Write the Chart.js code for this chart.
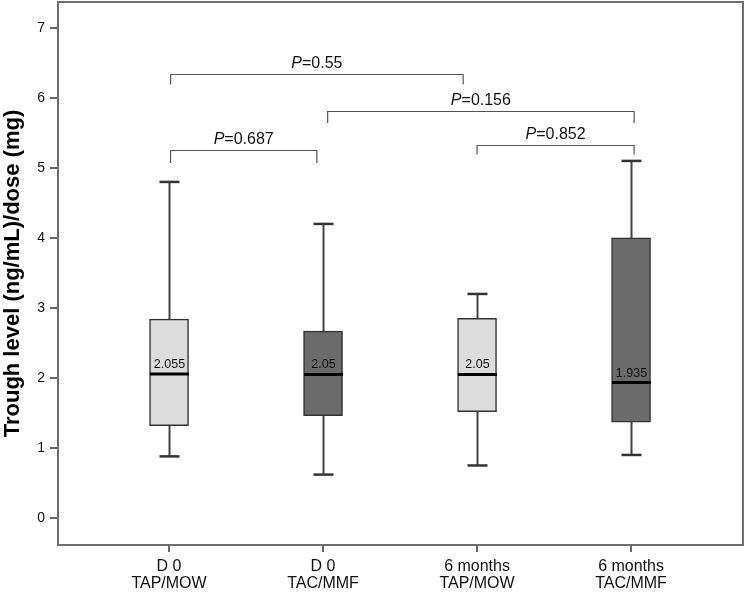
<!DOCTYPE html>
<html>
<head>
<meta charset="utf-8">
<script src="https://cdn.jsdelivr.net/npm/chart.js@4/dist/chart.umd.min.js"></script>
<style>
  html, body { margin: 0; padding: 0; background: #fff; }
  #wrap { width: 745px; height: 592px; }
</style>
</head>
<body>
<div id="wrap"><canvas id="chart"></canvas></div>
<script>
// box plot values
const groups = [['D 0', 'TAP/MOW'], ['D 0', 'TAC/MMF'], ['6 months', 'TAP/MOW'], ['6 months', 'TAC/MMF']];
const whiskerLow = [0.88, 0.62, 0.75, 0.90];
const q1 = [1.32, 1.46, 1.52, 1.37];
const median = [2.055, 2.05, 2.05, 1.935];
const q3 = [2.84, 2.67, 2.85, 4.00];
const whiskerHigh = [4.80, 4.20, 3.20, 5.10];
const medianLabels = ['2.055', '2.05', '2.05', '1.935'];
const yTicks = [0, 1, 2, 3, 4, 5, 6, 7];

// significance brackets
const pValues = ['0.55', '0.156', '0.687', '0.852'];
const pFrom = [1.01, 2.03, 1.01, 3.00];
const pTo = [2.91, 4.02, 1.96, 4.02];
const pTop = [6.34, 5.81, 5.25, 5.33];
const pFoot = [6.19, 5.64, 5.07, 5.19];

const FONT = "'Liberation Sans', Arial, Helvetica, sans-serif";
const light = '#dcdcdc';
const dark = '#6b6b6b';

const boxParts = {
    id: 'boxParts',
    beforeDatasetsDraw(chart) {
        const { ctx, scales: { x, y } } = chart;
        ctx.save();
        ctx.strokeStyle = '#454545';
        ctx.lineWidth = 2;
        groups.forEach((g, i) => {
            const px = Math.round(x.getPixelForValue(i + 1)) + 0.5;
            ctx.beginPath();
            ctx.moveTo(px, y.getPixelForValue(whiskerLow[i]));
            ctx.lineTo(px, y.getPixelForValue(whiskerHigh[i]));
            ctx.stroke();
        });
        ctx.restore();
    },
    afterDatasetsDraw(chart) {
        const { ctx, scales: { x, y } } = chart;
        ctx.save();
        const half = chart.getDatasetMeta(0).data[0].width / 2;
        groups.forEach((g, i) => {
            const px = Math.round(x.getPixelForValue(i + 1)) + 0.5;
            // caps
            ctx.strokeStyle = '#333';
            ctx.lineWidth = 2.5;
            [whiskerLow[i], whiskerHigh[i]].forEach(v => {
                const py = y.getPixelForValue(v);
                ctx.beginPath();
                ctx.moveTo(px - 10, py);
                ctx.lineTo(px + 10, py);
                ctx.stroke();
            });
            // median
            const my = y.getPixelForValue(median[i]);
            ctx.strokeStyle = '#000';
            ctx.lineWidth = 3;
            ctx.beginPath();
            ctx.moveTo(px - half, my);
            ctx.lineTo(px + half, my);
            ctx.stroke();
            ctx.fillStyle = '#111';
            ctx.font = '12.5px ' + FONT;
            ctx.textAlign = 'center';
            ctx.textBaseline = 'alphabetic';
            ctx.fillText(medianLabels[i], px, my - 6);
        });

        // brackets
        ctx.strokeStyle = '#555';
        ctx.lineWidth = 1.2;
        pValues.forEach((p, i) => {
            const x0 = x.getPixelForValue(pFrom[i]);
            const x1 = x.getPixelForValue(pTo[i]);
            const yt = Math.round(y.getPixelForValue(pTop[i])) + 0.5;
            const yf = y.getPixelForValue(pFoot[i]);
            ctx.beginPath();
            ctx.moveTo(x0, yf);
            ctx.lineTo(x0, yt);
            ctx.lineTo(x1, yt);
            ctx.lineTo(x1, yf);
            ctx.stroke();

            const italic = 'italic 16px ' + FONT;
            const normal = '16px ' + FONT;
            ctx.font = italic;
            const wP = ctx.measureText('P').width;
            ctx.font = normal;
            const wRest = ctx.measureText('=' + p).width;
            const start = (x0 + x1) / 2 - (wP + wRest) / 2;
            ctx.fillStyle = '#111';
            ctx.textAlign = 'left';
            ctx.textBaseline = 'alphabetic';
            ctx.font = italic;
            ctx.fillText('P', start, yt - 7);
            ctx.font = normal;
            ctx.fillText('=' + p, start + wP, yt - 7);
        });
        ctx.restore();
    },
    afterDraw(chart) {
        const { ctx, chartArea: a } = chart;
        ctx.save();
        ctx.strokeStyle = '#6e6e6e';
        ctx.lineWidth = 2;
        ctx.strokeRect(a.left, a.top, a.right - a.left, a.bottom - a.top);
        ctx.restore();
    }
};

new Chart(document.getElementById('chart'), {
    type: 'bar',
    data: {
        datasets: [{
            data: groups.map((g, i) => ({ x: i + 1, y: [q1[i], q3[i]] })),
            backgroundColor: [light, dark, light, dark],
            borderColor: '#333',
            borderWidth: 1.5,
            borderSkipped: false,
            barThickness: 39
        }]
    },
    options: {
        responsive: true,
        maintainAspectRatio: false,
        animation: false,
        layout: { padding: { top: 2, right: 2, left: 0, bottom: 0 } },
        plugins: {
            legend: { display: false },
            tooltip: { enabled: false }
        },
        scales: {
            x: {
                type: 'linear',
                min: 0.279,
                max: 4.727,
                offset: false,
                afterBuildTicks: s => { s.ticks = groups.map((g, i) => ({ value: i + 1 })); },
                afterFit: s => { s.height = 47; s.paddingLeft = 0; s.paddingRight = 0; },
                ticks: {
                    callback: v => groups[v - 1],
                    color: '#111',
                    font: { family: FONT, size: 16, lineHeight: 1.08 },
                    padding: 6,
                    maxRotation: 0,
                    autoSkip: false
                },
                grid: { display: true, drawOnChartArea: false, offset: false, tickLength: 7, tickColor: '#666', lineWidth: 2 },
                border: { display: false }
            },
            y: {
                min: -0.386,
                max: 7.37,
                afterBuildTicks: s => { s.ticks = yTicks.map(v => ({ value: v })); },
                afterFit: s => { s.width = 58; s.paddingTop = 0; s.paddingBottom = 0; },
                ticks: {
                    color: '#111',
                    font: { family: FONT, size: 14 },
                    padding: 5
                },
                grid: { display: true, drawOnChartArea: false, tickLength: 8, tickColor: '#666', lineWidth: 2 },
                border: { display: false },
                title: {
                    display: true,
                    text: 'Trough level (ng/mL)/dose (mg)',
                    color: '#000',
                    font: { family: FONT, size: 22, weight: 'bold' },
                    padding: { top: 0, bottom: 0 }
                }
            }
        }
    },
    plugins: [boxParts]
});
</script>
</body>
</html>
